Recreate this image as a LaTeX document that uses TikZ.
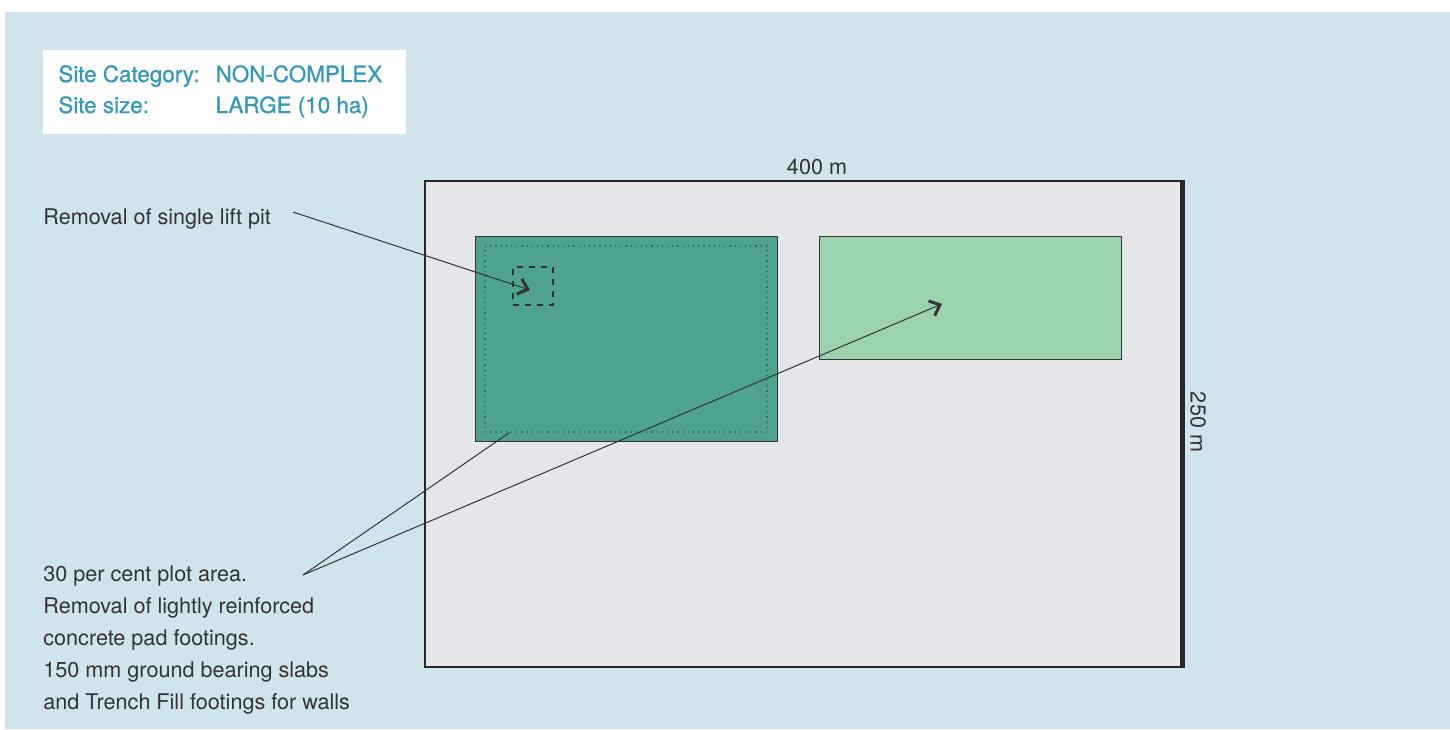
\documentclass[tikz,border=0pt]{standalone}
\usepackage{fontspec}
\setmainfont{TeX Gyre Heros}
\newfontfamily\titlefont[FakeBold=0.7]{TeX Gyre Heros}
\usetikzlibrary{arrows.meta}
\definecolor{bgblue}{HTML}{D0E4EE}
\definecolor{sitegrey}{HTML}{E4E6E9}
\definecolor{plotdark}{HTML}{4DA38F}
\definecolor{plotlight}{HTML}{9AD3AD}
\definecolor{titleblue}{HTML}{3399BB}
\definecolor{inkgrey}{HTML}{333333}

\begin{document}
\begin{tikzpicture}[x=0.5pt,y=-0.5pt,
	lbl/.style={inner sep=0,text=inkgrey,font=\fontsize{10.8}{16}\selectfont},
	plot/.style={draw=inkgrey,line width=0.5pt,inner sep=0,minimum width=151pt},
	pointer/.style={draw=inkgrey,line width=0.5pt},
	tip/.style={-{Straight Barb[length=4.5pt,width=8pt,line width=1.5pt]}}]
	\useasboundingbox (0,0) rectangle (1450,729);
	\fill[bgblue] (5,12) rectangle (1450,729);
	\node[fill=white,inner sep=0,minimum width=181.5pt,minimum height=42pt] (titlebox) at (224.5,92) {};
	\node[inner sep=0,anchor=base west,text=titleblue,font=\titlefont\fontsize{11.2}{15.5}\selectfont] (title) at (58,82)
		{\begin{tabular}[t]{@{}l@{\hspace{8pt}}l@{}}Site Category: & NON-COMPLEX\\Site size: & LARGE (10 ha)\end{tabular}};
	\node[draw=black!85,fill=sitegrey,line width=1.4pt,inner sep=0,minimum width=378pt,minimum height=243pt] (site) at (803,424) {};
	\draw[black!85,line width=1.4pt] ([xshift=0.4pt]site.north east) -- ([xshift=0.4pt]site.south east);
	\node[lbl,anchor=base] (width) at (817,174) {400 m};
	\node[lbl,rotate=-90] (depth) at (1198,422) {250 m};
	\node[plot,fill=plotdark,minimum height=102.5pt] (darkplot) at (626,338.5) {};
	\node[draw=black!35!plotdark,dotted,line width=0.6pt,inner sep=0,minimum width=141pt,minimum height=93pt] (footings) at (626,339) {};
	\node[plot,fill=plotlight,minimum height=61.5pt] (lightplot) at (970,297.5) {};
	\node[draw=inkgrey,dashed,line width=0.6pt,inner sep=0,minimum width=20pt,minimum height=19pt] (pit) at (533,286) {};
	\node[lbl,anchor=base west] (liftlabel) at (43,224) {Removal of single lift pit};
	\node[lbl,anchor=north west,align=left] (arealabel) at (43,565) {30 per cent plot area.\\Removal of lightly reinforced\\concrete pad footings.\\150 mm ground bearing slabs\\and Trench Fill footings for walls};
	\coordinate (liftend) at (293,212);
	\coordinate (areaend) at (303,575);
	\draw[pointer,tip] (liftend) -- ([shift={(-1.5pt,-2pt)}]pit.center);
	\draw[pointer,tip] (areaend) -- ([shift={(-14pt,-3.2pt)}]lightplot.center);
	\draw[pointer] (areaend) -- ([xshift=12.5pt]footings.south west);
\end{tikzpicture}
\end{document}
